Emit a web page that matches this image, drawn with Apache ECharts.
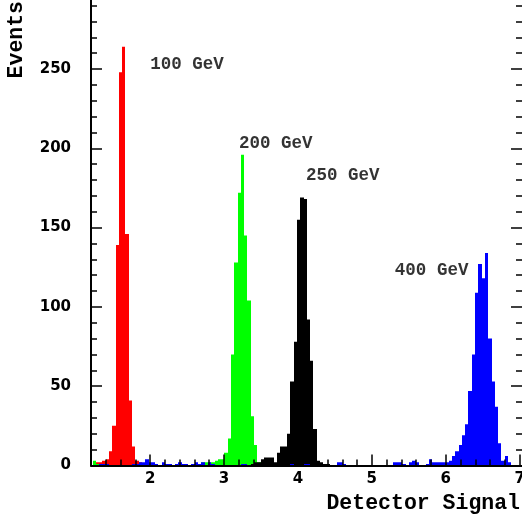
<!DOCTYPE html>
<html>
<head>
<meta charset="utf-8">
<script src="https://cdn.jsdelivr.net/npm/echarts@6/dist/echarts.min.js"></script>
<style>
html,body{margin:0;padding:0;background:#fff;}
#chart{width:522px;height:516px;}
</style>
</head>
<body>
<div id="chart"></div>
<script>
// Histogram binning (detector signal)
const BIN_LO = 1.2205;
const BIN_W = 0.04462;

// Counts per bin, each series starts at its first bin index
const RED_FIRST = 0;
const redCounts = [0, 2, 2, 3, 4, 9, 25, 139, 248, 264, 146, 41, 12, 3, 2, 1];

const GREEN_FIRST = 0;
const greenCounts = [3, 1, 0, 0, 0, 0, 0, 0, 0, 0,
  0, 0, 0, 0, 0, 0, 0, 0, 0, 0,
  0, 0, 0, 0, 0, 0, 0, 1, 1, 0,
  1, 1, 1, 2, 2, 2, 2, 3, 4, 4,
  8, 17, 70, 128, 172, 196, 145, 104, 31, 13,
  2, 1];

const BLACK_FIRST = 48;
const blackCounts = [1, 2, 2, 4, 5, 5, 5, 2, 8, 12, 12, 20, 53, 78, 155, 169, 168, 92, 66, 23, 3, 2, 1, 1];

const BLUE_FIRST = 0;
const blueCounts = [0, 0, 1, 1, 1, 0, 0, 0, 0, 0,
  0, 0, 1, 1, 2, 2, 4, 2, 2, 1,
  0, 2, 1, 1, 0, 1, 2, 1, 1, 0,
  1, 2, 1, 2, 0, 2, 1, 0, 0, 0,
  0, 0, 0, 0, 0, 1, 1, 0, 0, 0,
  0, 0, 0, 0, 0, 0, 0, 0, 0, 0,
  1, 0, 0, 0, 1, 1, 0, 0, 0, 0,
  0, 0, 0, 0, 2, 2, 1, 0, 0, 0,
  0, 0, 0, 0, 0, 0, 0, 0, 0, 0,
  0, 2, 2, 2, 1, 0, 2, 3, 2, 0,
  0, 1, 4, 2, 2, 2, 2, 2, 3, 6,
  9, 13, 19, 26, 47, 70, 109, 127, 118, 134,
  80, 53, 37, 14, 3, 6, 2];

// Axis ticks
const X_MIN = 1.2;
const X_MAX = 7.032;
const X_MAJOR = [2, 3, 4, 5, 6, 7];
const X_MINOR = [1.4, 1.6, 1.8, 2.2, 2.4, 2.6, 2.8, 3.2, 3.4, 3.6, 3.8, 4.2, 4.4, 4.6, 4.8,
  5.2, 5.4, 5.6, 5.8, 6.2, 6.4, 6.6, 6.8];
const Y_MIN = 0;
const Y_MAX = 300;
const Y_STEP = 50;

// Energy annotations
const annText = ['100 GeV', '200 GeV', '250 GeV', '400 GeV'];
const annX = [1.995, 3.196, 4.103, 5.305];
const annY = [253, 203, 183, 123];

const chart = echarts.init(document.getElementById('chart'), null, {renderer: 'canvas'});

function histSeries(name, color, first, counts) {
  const data = [];
  counts.forEach(function (c, k) {
    if (c > 0) {
      const i = first + k;
      data.push([BIN_LO + i * BIN_W, Math.min(BIN_LO + (i + 1) * BIN_W, X_MAX), c]);
    }
  });
  return {
    type: 'custom',
    name: name,
    data: data,
    encode: {x: [0, 1], y: 2},
    clip: true,
    z: 2,
    silent: true,
    renderItem: function (params, api) {
      const p0 = api.coord([api.value(0), api.value(2)]);
      const p1 = api.coord([api.value(1), 0]);
      const xa = Math.round(p0[0]);
      const xb = Math.round(p1[0]);
      return {
        type: 'rect',
        shape: {x: xa, y: p0[1], width: xb - xa, height: p1[1] - p0[1]},
        style: {fill: color}
      };
    }
  };
}

const tickFont = {fontFamily: 'DejaVu Sans', fontWeight: 'bold', fontSize: 15, color: '#000'};
const monoFont = 'Liberation Mono';

chart.setOption({
  animation: false,
  backgroundColor: '#fff',
  grid: {left: 91, right: 0, top: -10.3, bottom: 50.5, containLabel: false, outerBoundsMode: 'none'},
  xAxis: [{
    type: 'value', min: X_MIN, max: X_MAX, position: 'bottom', z: 10,
    axisLine: {show: true, lineStyle: {color: '#000', width: 2}},
    axisTick: {show: true, inside: true, length: 11, customValues: X_MAJOR, lineStyle: {color: '#000', width: 1.5}},
    axisLabel: Object.assign({show: true, margin: 6, customValues: X_MAJOR}, tickFont),
    splitLine: {show: false}
  }, {
    type: 'value', min: X_MIN, max: X_MAX, position: 'bottom', z: 10,
    axisLine: {show: false},
    axisTick: {show: true, inside: true, length: 6, customValues: X_MINOR, lineStyle: {color: '#000', width: 1.5}},
    axisLabel: {show: false},
    splitLine: {show: false}
  }],
  yAxis: [{
    type: 'value', min: Y_MIN, max: Y_MAX, interval: Y_STEP, position: 'left', z: 10,
    axisLine: {show: true, lineStyle: {color: '#000', width: 2}},
    axisTick: {show: true, inside: true, length: 11, lineStyle: {color: '#000', width: 1.5}},
    minorTick: {show: true, splitNumber: 5, length: 6, lineStyle: {color: '#000', width: 1.5}},
    axisLabel: Object.assign({show: true, margin: 20}, tickFont),
    splitLine: {show: false}
  }, {
    type: 'value', min: Y_MIN, max: Y_MAX, interval: Y_STEP, position: 'right', z: 10,
    axisLine: {show: false},
    axisTick: {show: true, inside: true, length: 11, lineStyle: {color: '#000', width: 1.5}},
    minorTick: {show: true, splitNumber: 5, length: 6, lineStyle: {color: '#000', width: 1.5}},
    axisLabel: {show: false},
    splitLine: {show: false}
  }],
  series: [
    histSeries('100 GeV', '#ff0000', RED_FIRST, redCounts),
    histSeries('200 GeV', '#00ff00', GREEN_FIRST, greenCounts),
    histSeries('250 GeV', '#000000', BLACK_FIRST, blackCounts),
    histSeries('400 GeV', '#0000ff', BLUE_FIRST, blueCounts),
    {
      type: 'scatter',
      silent: true,
      z: 5,
      symbol: 'circle',
      symbolSize: 1,
      itemStyle: {color: 'rgba(0,0,0,0)'},
      data: annText.map(function (t, i) { return {value: [annX[i], annY[i]], name: t}; }),
      label: {
        show: true, position: 'right', distance: 0,
        formatter: function (p) { return p.name; },
        fontFamily: monoFont, fontWeight: 'bold', fontSize: 17.5, color: '#000'
      }
    }
  ],
  graphic: [{
    type: 'text',
    x: 520, y: 504,
    style: {text: 'Detector Signal', fontFamily: monoFont, fontWeight: 'bold', fontSize: 21.5,
      fill: '#000', textAlign: 'right', textVerticalAlign: 'middle'}
  }, {
    type: 'text',
    x: 17, y: 1,
    rotation: Math.PI / 2,
    style: {text: 'Events', fontFamily: monoFont, fontWeight: 'bold', fontSize: 21.5,
      fill: '#000', textAlign: 'right', textVerticalAlign: 'middle'}
  }]
});
</script>
</body>
</html>
